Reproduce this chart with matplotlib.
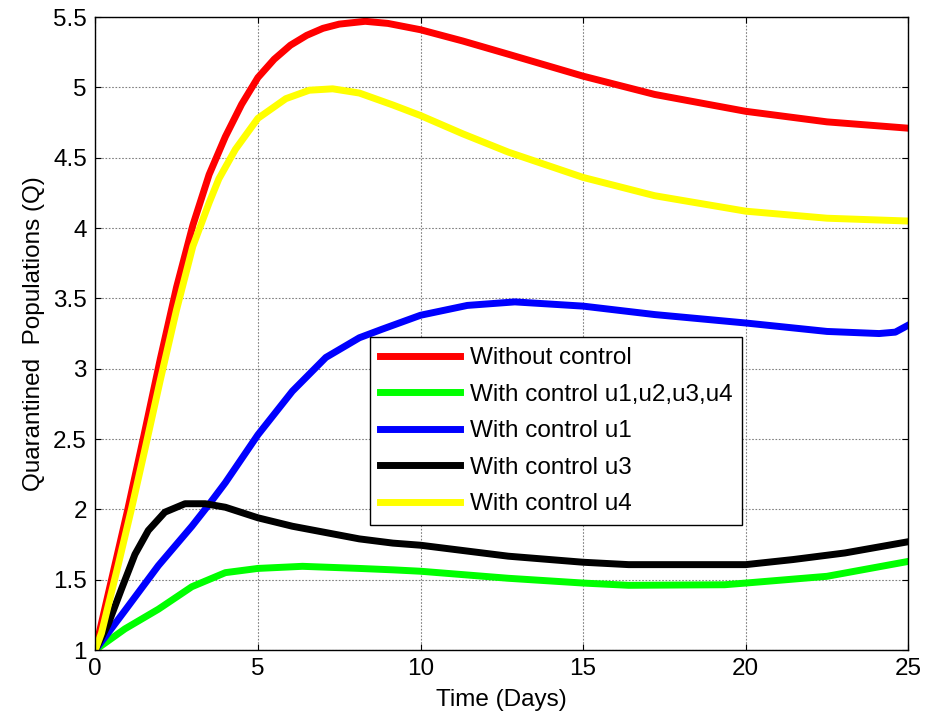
import matplotlib.pyplot as plt

plt.rcParams['font.family'] = ['Liberation Sans', 'DejaVu Sans']

t_red = [0, 0.5, 1.0, 1.5, 2.0, 2.5, 3.0, 3.5, 4.0, 4.5, 5.0, 5.5, 6.0, 6.5, 7.0, 7.5, 8.3, 9.0, 10, 11.3, 12.7, 15, 17.2, 20, 22.5, 25]
q_red = [1.0, 1.5, 2.0, 2.53, 3.07, 3.58, 4.02, 4.38, 4.65, 4.88, 5.07, 5.2, 5.3, 5.37, 5.42, 5.45, 5.47, 5.455, 5.41, 5.33, 5.236, 5.08, 4.95, 4.83, 4.755, 4.71]

t_yellow = [0, 0.19, 0.7, 1.11, 1.53, 2.0, 2.5, 3.0, 3.5, 3.8, 4.31, 5.0, 5.86, 6.58, 7.3, 8.12, 9.15, 10, 11.3, 12.7, 15, 17.2, 20, 22.5, 25]
q_yellow = [1.0, 1.12, 1.6, 2.0, 2.43, 2.92, 3.42, 3.87, 4.18, 4.35, 4.56, 4.78, 4.92, 4.98, 4.99, 4.96, 4.875, 4.8, 4.67, 4.54, 4.36, 4.23, 4.12, 4.07, 4.05]

t_blue = [0, 0.91, 1.94, 2.97, 3.48, 4.0, 5.0, 6.06, 7.09, 8.12, 8.81, 10, 11.44, 12.9, 15, 17.2, 20, 22.5, 24.1, 24.6, 25]
q_blue = [1.0, 1.28, 1.6, 1.88, 2.03, 2.19, 2.53, 2.84, 3.08, 3.22, 3.28, 3.38, 3.45, 3.475, 3.445, 3.385, 3.325, 3.265, 3.25, 3.26, 3.31]

t_black = [0, 0.39, 0.8, 1.22, 1.63, 2.14, 2.76, 3.38, 4.0, 5.0, 6.06, 7.09, 8.12, 9.15, 10, 12.7, 15, 16.4, 20, 21.45, 23.05, 25]
q_black = [1.0, 1.18, 1.43, 1.68, 1.85, 1.98, 2.04, 2.04, 2.015, 1.94, 1.88, 1.835, 1.79, 1.76, 1.745, 1.667, 1.624, 1.607, 1.607, 1.643, 1.69, 1.77]

t_green = [0, 0.91, 1.94, 2.97, 4.0, 5.0, 6.37, 8.12, 9.15, 10, 12.7, 15, 16.4, 19.35, 20, 22.5, 25]
q_green = [1.0, 1.15, 1.29, 1.45, 1.55, 1.58, 1.595, 1.58, 1.57, 1.56, 1.51, 1.476, 1.46, 1.464, 1.476, 1.524, 1.63]

labels = ["Without control", "With control u1,u2,u3,u4", "With control u1",
          "With control u3", "With control u4"]

fig = plt.figure(figsize=(9.25, 7.18), dpi=100)
ax = fig.add_axes([0.103, 0.0947, 0.879, 0.8815])

lw = 5
ax.plot(t_red, q_red, color='#ff0000', lw=lw, label=labels[0])
ax.plot(t_green, q_green, color='#00ff00', lw=lw, label=labels[1])
ax.plot(t_blue, q_blue, color='#0000ff', lw=lw, label=labels[2])
ax.plot(t_black, q_black, color='black', lw=lw, label=labels[3])
ax.plot(t_yellow, q_yellow, color='#ffff00', lw=lw, label=labels[4])

ax.set_xlim(0, 25)
ax.set_ylim(1, 5.5)
ax.set_xticks([0, 5, 10, 15, 20, 25])
ax.set_yticks([1, 1.5, 2, 2.5, 3, 3.5, 4, 4.5, 5, 5.5])
ax.set_yticklabels(['1', '1.5', '2', '2.5', '3', '3.5', '4', '4.5', '5', '5.5'])
ax.grid(True, color='#808080', linestyle=(0, (1.5, 1.5)), linewidth=0.8)
ax.tick_params(direction='in', length=4, top=True, right=True, labelsize=17.5, pad=6)
for s in ax.spines.values():
    s.set_linewidth(1.0)

ax.set_xlabel("Time (Days)", fontsize=17.5, labelpad=6)
ax.set_ylabel("Quarantined  Populations (Q)", fontsize=17.5, labelpad=6)

leg = ax.legend(loc='upper left', bbox_to_anchor=(0.338, 0.494), fontsize=17.5,
                handlelength=3.3, handletextpad=0.4, labelspacing=0.6,
                borderpad=0.4, borderaxespad=0, fancybox=False, framealpha=1,
                edgecolor='black')
leg.get_frame().set_linewidth(1.0)

fig.savefig("out.png", dpi=100)
